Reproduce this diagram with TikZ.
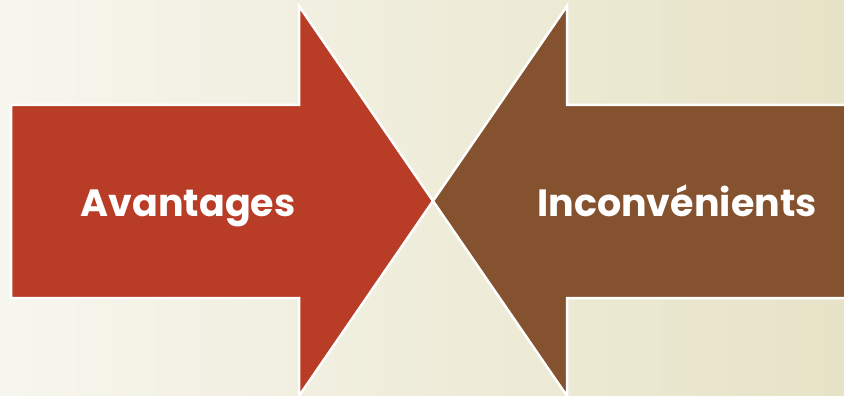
\documentclass[tikz,border=0pt]{standalone}
\usepackage{fontspec}
\setmainfont{Poppins}
\usetikzlibrary{positioning}
\definecolor{avred}{HTML}{B93C27}
\definecolor{inbrown}{HTML}{855230}
\definecolor{bgleft}{HTML}{F7F6EE}
\definecolor{bgright}{HTML}{E7E3C7}

\begin{document}
\begin{tikzpicture}[x=1pt,y=-1pt,
  fleche/.style={draw=white,line width=2.5pt,line join=miter},
  etiquette/.style={text=white,anchor=base,font=\bfseries\fontsize{38}{46}\selectfont}]
\useasboundingbox (0,0) rectangle (844,396);
\clip (0,0) rectangle (844,396);
\shade[left color=bgleft,right color=bgright] (0,0) rectangle (844,396);
\coordinate (pointe) at (433,201);
% fleche rouge vers la droite
\filldraw[fleche,fill=avred] (11,105) -- (299,105) -- (299,6) -- (pointe)
  -- (299,396) -- (299,298) -- (11,298) -- cycle;
% fleche brune vers la gauche
\filldraw[fleche,fill=inbrown] (850,105) -- (567,105) -- (567,6) -- (pointe)
  -- (567,396) -- (567,298) -- (850,298) -- cycle;
\node[etiquette] (avantages) at (188,216) {Avantages};
\node[etiquette] (inconvenients) at (677,216) {Inconvénients};
\end{tikzpicture}
\end{document}
